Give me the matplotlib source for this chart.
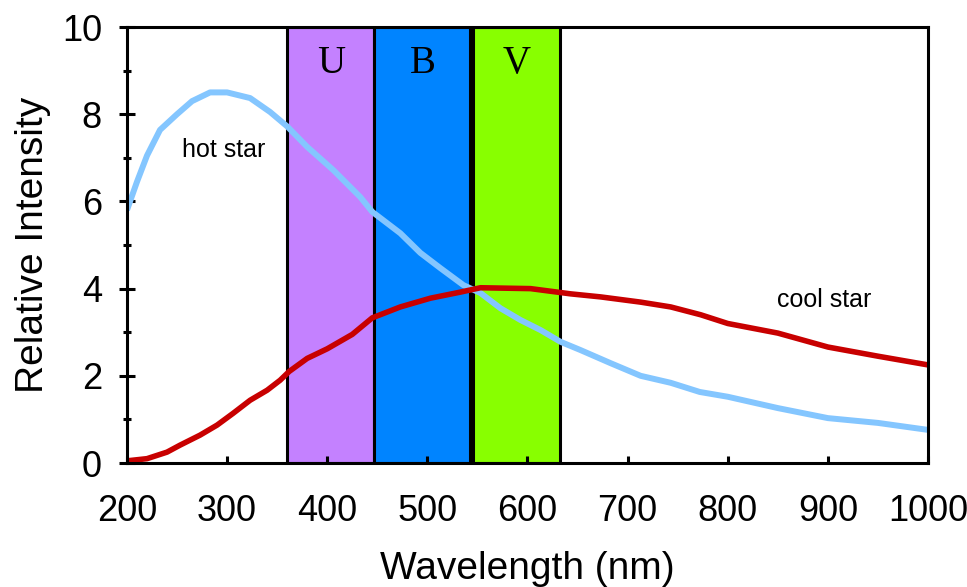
import matplotlib
matplotlib.use('Agg')
import matplotlib.pyplot as plt
import numpy as np

plt.rcParams['font.family'] = ['Liberation Sans', 'DejaVu Sans']

# Hot star curve
hot_wl = np.array([200, 210, 220, 233, 250, 265, 283, 300, 323, 343, 360, 380, 406, 433,
                   445, 473, 493, 513, 536, 553, 573, 593, 613, 633, 653, 683, 713, 743,
                   772, 800, 850, 900, 950, 1000])
hot_i = np.array([5.8, 6.45, 7.05, 7.64, 8.0, 8.3, 8.5, 8.5, 8.37, 8.05, 7.72, 7.25, 6.72, 6.1,
                  5.76, 5.27, 4.82, 4.47, 4.08, 3.9, 3.55, 3.28, 3.05, 2.78, 2.59, 2.29, 2.0, 1.84,
                  1.63, 1.52, 1.26, 1.03, 0.92, 0.76])

# Cool star curve
cool_wl = np.array([200, 220, 240, 253, 273, 290, 306, 323, 340, 353, 362, 380, 400, 425,
                    445, 473, 503, 533, 553, 603, 643, 673, 713, 743, 773, 800, 850, 900,
                    950, 1000])
cool_i = np.array([0.05, 0.1, 0.25, 0.41, 0.64, 0.87, 1.14, 1.44, 1.67, 1.9, 2.1, 2.4, 2.62, 2.95,
                   3.33, 3.58, 3.78, 3.92, 4.02, 4.0, 3.88, 3.81, 3.69, 3.58, 3.4, 3.2, 2.98, 2.66,
                   2.45, 2.25])

# Filter bands
band_names = ['U', 'B', 'V']
band_lo = [360, 447, 545.5]
band_hi = [447, 543, 632]
band_colors = ['#C481FF', '#0084FF', '#88FF00']

fig = plt.figure(figsize=(9.67, 5.87), dpi=100)
ax = fig.add_axes([0.1313, 0.2112, 0.8284, 0.7428])

for name, lo, hi, c in zip(band_names, band_lo, band_hi, band_colors):
    ax.axvspan(lo, hi, facecolor=c, edgecolor='black', linewidth=2.2, zorder=1)
    ax.text((lo + hi) / 2, 9.17, name, ha='center', va='center', fontsize=28,
            family=['Liberation Serif', 'DejaVu Serif'], zorder=3)

ax.plot(hot_wl, hot_i, color='#84C6FF', linewidth=4.3, zorder=2, solid_capstyle='butt')
ax.plot(cool_wl, cool_i, color='#C80000', linewidth=4.0, zorder=2, solid_capstyle='butt')

ax.text(297, 7.18, 'hot star', ha='center', va='center', fontsize=18)
ax.text(896, 3.74, 'cool star', ha='center', va='center', fontsize=18)

ax.set_xlim(200, 1000)
ax.set_ylim(0, 10)
ax.set_xticks(np.arange(200, 1001, 100))
ax.set_yticks(np.arange(0, 11, 2))
ax.set_yticks(np.arange(1, 10, 2), minor=True)

for s in ax.spines.values():
    s.set_linewidth(2.2)
    s.set_zorder(4)

ax.tick_params(axis='x', direction='in', length=5, width=2.2, labelsize=26, pad=22)
ax.tick_params(axis='y', which='major', direction='inout', length=12, width=2.2,
               labelsize=26, pad=12)
ax.tick_params(axis='y', which='minor', direction='inout', length=6, width=2.2)

ax.set_xlabel('Wavelength (nm)', fontsize=28, labelpad=16)
ax.set_ylabel('Relative Intensity', fontsize=28, labelpad=8)

fig.savefig('out.png', dpi=100)
